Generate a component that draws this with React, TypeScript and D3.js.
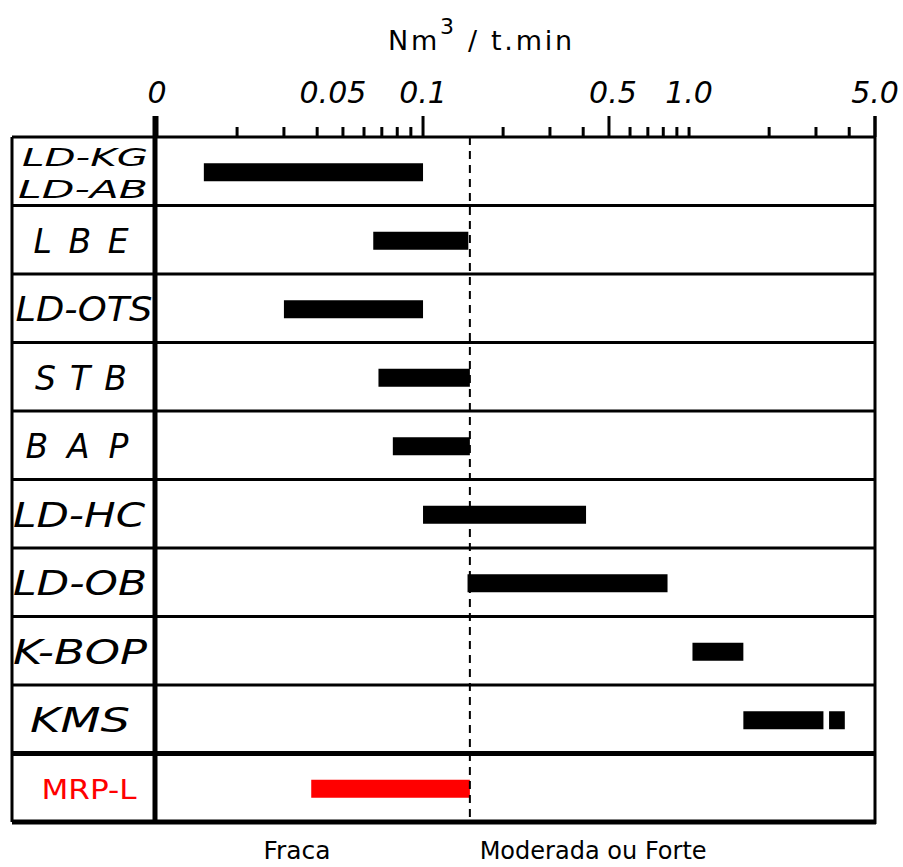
import React from "react";
import * as d3 from "d3";

// ---- data ----
const categories = ["LD-KG|LD-AB", "LBE", "LD-OTS", "STB", "BAP", "LD-HC", "LD-OB", "K-BOP", "KMS", "MRP-L"];
const rangeStart = [0.015, 0.065, 0.03, 0.068, 0.077, 0.1, 0.147, 1.03, 1.6, 0.038];
const rangeEnd = [0.1, 0.148, 0.1, 0.15, 0.15, 0.41, 0.83, 1.6, 3.2, 0.15];
// extra (split) segment: [category, start, end]
const extraSegments: [string, number, number][] = [["KMS", 3.36, 3.85]];
const highlightCategory = "MRP-L";
const majorTickValues = [0.01, 0.05, 0.1, 0.5, 1, 5];
const majorTickLabels = ["0", "0.05", "0.1", "0.5", "1.0", "5.0"];
const threshold = 0.15;
const zoneLabels = ["Fraca", "Moderada ou Forte"];
const zoneLabelValues = [0.0336, 0.436];
const unitMain = "Nm";
const unitSup = "3";
const unitRest = " / t.min";

// ---- layout ----
const W = 903;
const H = 867;
const left = 12;
const colDiv = 155;
const plotL = 157;
const plotR = 875;
const top = 137;
const bottom = 822;
const labelWidths: Record<string, number> = {
  "LD-KG": 126, "LD-AB": 130, LBE: 95, "LD-OTS": 137, STB: 92, BAP: 103,
  "LD-HC": 132, "LD-OB": 134, "K-BOP": 134, KMS: 100, "MRP-L": 95,
};
const labelCenters: Record<string, number> = {
  "LD-KG": 85, "LD-AB": 83, LBE: 81, "LD-OTS": 84, STB: 81, BAP: 77,
  "LD-HC": 79, "LD-OB": 80, "K-BOP": 80, KMS: 80, "MRP-L": 89,
};
const spacedLabels = ["LBE", "STB", "BAP"];

export default function App() {
  const x = d3.scaleLog().domain([0.01, 5]).range([plotL, plotR]);
  const y = d3.scaleBand<string>().domain(categories).range([top, bottom]).padding(0);
  const bw = y.bandwidth();
  const barH = 18;
  const minorTicks = x.ticks().filter((t) => t >= 0.01 && t <= 5);
  const tallTicks = [0.01, 0.1, 0.5, 5];
  const font = "'DejaVu Sans', Verdana, sans-serif";

  return (
    <svg
      width={W}
      height={H}
      style={{ position: "absolute", left: 0, top: 0, background: "#fff" }}
      fontFamily={font}
    >
      <rect x={0} y={0} width={W} height={H} fill="#fff" />

      {/* title */}
      <text x={388} y={50} fontSize={27} fill="#000" textLength={184} lengthAdjust="spacing">
        {unitMain}
        <tspan dy={-16} fontSize={22}>{unitSup}</tspan>
        <tspan dy={16}>{unitRest}</tspan>
      </text>

      {/* tick labels */}
      {majorTickValues.map((v, i) => (
        <text
          key={"tl" + i}
          x={x(v) + (v === 0.05 ? -10 : v === 0.5 ? 4 : 0)}
          y={103}
          fontSize={30}
          fontStyle="italic"
          textAnchor="middle"
          fill="#000"
        >
          {majorTickLabels[i]}
        </text>
      ))}

      {/* ticks */}
      {minorTicks.map((t, i) => (
        <line
          key={"tk" + i}
          x1={x(t)}
          x2={x(t)}
          y1={top}
          y2={tallTicks.some((m) => Math.abs(m - t) < 1e-9) ? top - 21 : top - 10}
          stroke="#000"
          strokeWidth={3}
        />
      ))}

      {/* rows */}
      {categories.map((c, i) => {
        const y0 = y(c)!;
        const cy = y0 + bw / 2;
        const isHi = c === highlightCategory;
        const segs: [number, number][] = [[rangeStart[i], rangeEnd[i]]];
        extraSegments.filter((s) => s[0] === c).forEach((s) => segs.push([s[1], s[2]]));
        const lines = c.split("|");
        return (
          <g key={c}>
            {segs.map((s, j) => (
              <rect
                key={j}
                x={x(s[0])}
                y={cy - barH / 2 + 1}
                width={x(s[1]) - x(s[0])}
                height={barH}
                fill={isHi ? "#ff0000" : "#000"}
              />
            ))}
            {lines.length === 2
              ? lines.map((ln, k) => (
                  <text
                    key={ln}
                    x={labelCenters[ln]}
                    y={cy - 5 + k * 32}
                    fontSize={25}
                    fontStyle="italic"
                    textAnchor="middle"
                    textLength={labelWidths[ln]}
                    lengthAdjust="spacingAndGlyphs"
                    fill="#000"
                  >
                    {ln}
                  </text>
                ))
              : (
                <text
                  x={labelCenters[c]}
                  y={cy + (isHi ? 11 : 13)}
                  fontSize={isHi ? 27 : 33}
                  fontStyle={isHi ? "normal" : "italic"}
                  textAnchor="middle"
                  textLength={labelWidths[c]}
                  lengthAdjust={spacedLabels.includes(c) ? "spacing" : "spacingAndGlyphs"}
                  fill={isHi ? "#ff0000" : "#000"}
                >
                  {c}
                </text>
              )}
            {i > 0 && (
              <line
                x1={left}
                x2={plotR}
                y1={y0}
                y2={y0}
                stroke="#000"
                strokeWidth={isHi ? 5 : 3}
              />
            )}
          </g>
        );
      })}

      {/* threshold dashed line */}
      <line
        x1={x(threshold)}
        x2={x(threshold)}
        y1={top}
        y2={bottom}
        stroke="#000"
        strokeWidth={2}
        strokeDasharray="8,6"
      />

      {/* frame */}
      <line x1={left} x2={plotR + 1} y1={top} y2={top} stroke="#000" strokeWidth={3} />
      <line x1={left} x2={plotR + 1} y1={bottom} y2={bottom} stroke="#000" strokeWidth={5} />
      <line x1={left} x2={left} y1={top} y2={bottom} stroke="#000" strokeWidth={3} />
      <line x1={plotR} x2={plotR} y1={top - 21} y2={bottom + 2} stroke="#000" strokeWidth={3} />
      <line x1={colDiv} x2={colDiv} y1={top - 21} y2={bottom + 2} stroke="#000" strokeWidth={5} />

      {/* zone labels */}
      {zoneLabels.map((z, i) => (
        <text
          key={z}
          x={x(zoneLabelValues[i])}
          y={859}
          fontSize={25}
          textAnchor="middle"
          textLength={i === 0 ? 67 : 227}
          lengthAdjust="spacingAndGlyphs"
          fill="#000"
        >
          {z}
        </text>
      ))}
    </svg>
  );
}
